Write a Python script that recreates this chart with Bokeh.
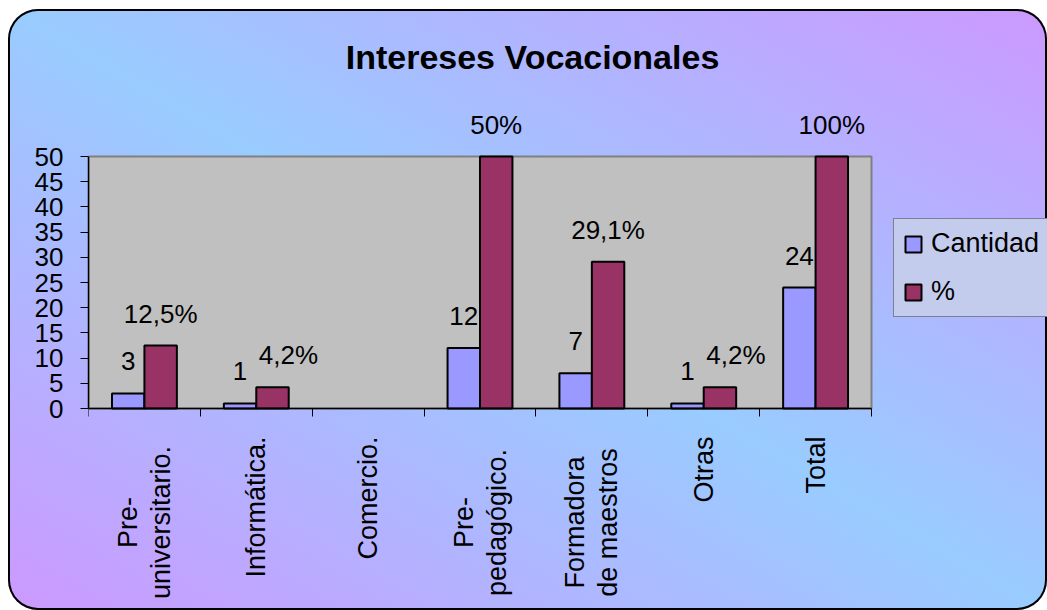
import numpy as np
from bokeh.plotting import figure
from bokeh.models import (Range1d, FixedTicker, LinearAxis, ColumnDataSource,
                          LabelSet, Label, Legend, LegendItem, CDSView, BooleanFilter)
from bokeh.core.properties import value
from bokeh.embed import file_html
from bokeh.resources import INLINE

# ---------------- data ----------------
categories = ["Pre-\nuniversitario.", "Informática.", "Comercio.",
              "Pre-\npedagógico.", "Formadora\nde maestros", "Otras", "Total"]
cantidad = [3, 1, 0, 12, 7, 1, 24]
porcentaje = [12.5, 4.2, 0, 50, 29.1, 4.2, 100]
series_names = ["Cantidad", "%"]
y_ticks = [0, 5, 10, 15, 20, 25, 30, 35, 40, 45, 50]
title_text = "Intereses Vocacionales"

# ---------------- geometry / styling ----------------
FONT = "Liberation Sans"
C_CANT = "#9999FF"
C_PCT = "#993366"
Y_MAX = y_ticks[-1]
BAR_W = 0.29
n = len(categories)

W, H = 1039, 601          # figure size (placed at page offset 8, 9)
LEFT = 80                 # space for the y axis
PLOT_W_PX = 783           # width of the grey plot area
PLOT_H_PX = 252           # height of the grey plot area
PLOT_TOP_PX = 147         # grey area top, from figure top
LINE_PX = 33              # line spacing of the rotated category labels
x_end = n * (W - LEFT) / PLOT_W_PX
px_per_unit = PLOT_H_PX / Y_MAX
y_top = (PLOT_TOP_PX + PLOT_H_PX) / px_per_unit
y_bot = -(H - PLOT_TOP_PX - PLOT_H_PX) / px_per_unit

p = figure(width=W, height=H, output_backend="svg", toolbar_location=None,
           x_range=Range1d(0, x_end), y_range=Range1d(y_bot, y_top),
           min_border_left=LEFT, min_border_right=0, min_border_top=0,
           min_border_bottom=0, x_axis_type=None, y_axis_type=None)
p.background_fill_color = None
p.border_fill_color = None
p.outline_line_color = None
p.grid.visible = False
p.styles = {
    "margin": "9px 0 0 8px",
    "background": "linear-gradient(to top right, #CC99FF 0%, #99CCFF 50%, #CC99FF 100%)",
    "border-radius": "30px",
    "box-shadow": "inset 0 0 0 2px #000000",
}

# grey plot area
p.quad(left=[0], right=[n], bottom=[0], top=[Y_MAX],
       fill_color="#C0C0C0", line_color="#808080", line_width=2)

# y axis
yax = LinearAxis(ticker=FixedTicker(ticks=y_ticks), bounds=(0, Y_MAX))
yax.axis_line_color = "#000000"
yax.axis_line_width = 1.5
yax.major_tick_in = 0
yax.major_tick_out = 8
yax.minor_tick_line_color = None
yax.major_label_standoff = 17
yax.major_label_text_font = FONT
yax.major_label_text_font_size = "26px"
yax.major_label_text_color = "#000000"
p.add_layout(yax, "left")

# x axis at y = 0 (tick marks at category boundaries, no labels)
xax = LinearAxis(ticker=FixedTicker(ticks=list(range(n + 1))), bounds=(0, n),
                 fixed_location=0)
xax.axis_line_color = "#000000"
xax.axis_line_width = 1.5
xax.major_tick_in = 0
xax.major_tick_out = 8
xax.minor_tick_line_color = None
xax.major_label_overrides = {i: "" for i in range(n + 1)}
p.add_layout(xax, "below")

xpos = np.arange(n) + 0.5
src = ColumnDataSource(dict(
    x_c=xpos - BAR_W / 2, x_p=xpos + BAR_W / 2,
    cant=cantidad, pct=np.minimum(porcentaje, Y_MAX),
))
view_c = CDSView(filter=BooleanFilter([v != 0 for v in cantidad]))
view_p = CDSView(filter=BooleanFilter([v != 0 for v in porcentaje]))
r1 = p.vbar(x="x_c", top="cant", width=BAR_W, source=src, view=view_c,
            fill_color=C_CANT, line_color="#000000", line_width=2)
r2 = p.vbar(x="x_p", top="pct", width=BAR_W, source=src, view=view_p,
            fill_color=C_PCT, line_color="#000000", line_width=2)

# value labels (skip zeros); shift the % label right when it would collide
def fmt_pct(v):
    return ("%g" % v).replace(".", ",") + "%"

idx = [i for i in range(n) if cantidad[i] != 0]
yc = [min(cantidad[i], Y_MAX) for i in idx]
yp = [min(porcentaje[i], Y_MAX) for i in idx]
lab_src = ColumnDataSource(dict(
    x_c=[xpos[i] - BAR_W / 2 for i in idx], y_c=yc,
    t_c=[str(cantidad[i]) for i in idx],
    x_p=[xpos[i] + BAR_W / 2 for i in idx], y_p=yp,
    t_p=[fmt_pct(porcentaje[i]) for i in idx],
    dx_c=[0] * len(idx),
    dx_p=[16 if abs(a - b) * px_per_unit < 24 else 0 for a, b in zip(yp, yc)],
))
for xs, ys, ts, dx in (("x_c", "y_c", "t_c", "dx_c"), ("x_p", "y_p", "t_p", "dx_p")):
    p.add_layout(LabelSet(x=xs, y=ys, text=ts, source=lab_src, y_offset=32,
                          x_offset=dx, text_align="center", text_baseline="middle",
                          text_font=value(FONT), text_font_size="26px",
                          text_color="#000000"))

# category labels (rotated, each line separately so lines are centred)
rows = {"single": dict(x=[], y=[], t=[], dx=[]), "multi": dict(x=[], y=[], t=[], dx=[])}
for i, cat in enumerate(categories):
    lines = cat.split("\n")
    key = "multi" if len(lines) > 1 else "single"
    for k, line in enumerate(lines):
        rows[key]["x"].append(xpos[i])
        rows[key]["y"].append(0)
        rows[key]["t"].append(line)
        rows[key]["dx"].append((k - (len(lines) - 1) / 2) * LINE_PX)
p.add_layout(LabelSet(x="x", y="y", text="t", x_offset="dx",
                      source=ColumnDataSource(rows["single"]), angle=np.pi / 2,
                      y_offset=-28, text_align="right", text_baseline="middle",
                      text_font=value(FONT), text_font_size="27px",
                      text_color="#000000"))
p.add_layout(LabelSet(x="x", y="y", text="t", x_offset="dx",
                      source=ColumnDataSource(rows["multi"]), angle=np.pi / 2,
                      y_offset=-114, text_align="center", text_baseline="middle",
                      text_font=value(FONT), text_font_size="27px",
                      text_color="#000000"))

# title (centred on the whole chart)
p.add_layout(Label(x=(532 - 8 - LEFT) / PLOT_W_PX * n,
                   y=(PLOT_TOP_PX + PLOT_H_PX - 47) / px_per_unit,
                   text=title_text, text_align="center", text_baseline="middle",
                   text_font=FONT, text_font_size="34px", text_font_style="bold",
                   text_color="#000000"))

# legend
legend = Legend(items=[LegendItem(label=series_names[0], renderers=[r1]),
                       LegendItem(label=series_names[1], renderers=[r2])],
                location=(805, 293))
legend.border_line_color = "#333333"
legend.border_line_width = 1.5
legend.background_fill_color = "#C4CCEE"
legend.background_fill_alpha = 1
legend.label_text_font = FONT
legend.label_text_font_size = "27px"
legend.label_text_color = "#000000"
legend.glyph_width = 20
legend.glyph_height = 20
legend.padding = 9
legend.spacing = 17
legend.label_standoff = 8
legend.margin = 0
p.add_layout(legend, "center")

open("out.html", "w").write(file_html(p, INLINE))
